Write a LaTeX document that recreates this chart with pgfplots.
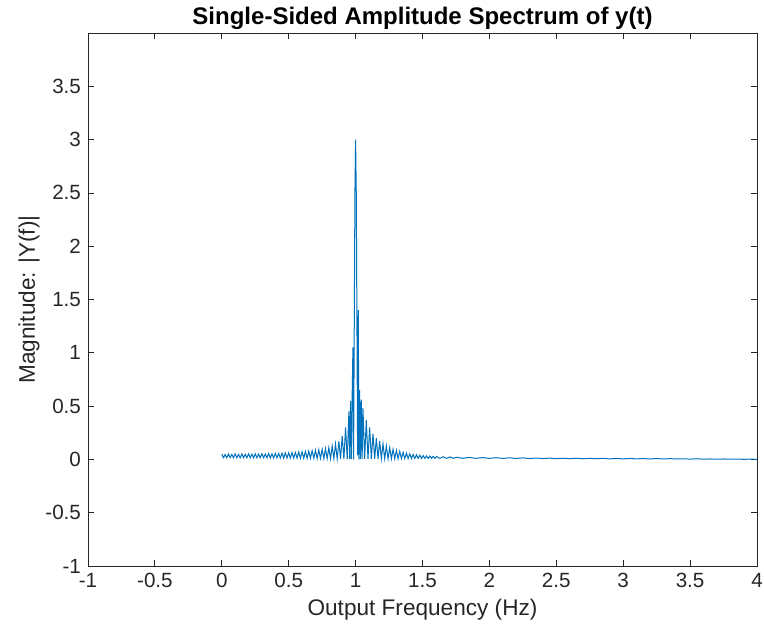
\documentclass[border=0pt]{standalone}
\usepackage{pgfplots}
\pgfplotsset{compat=1.18}
\usepackage{fontspec}
\setmainfont{Liberation Sans}
\usetikzlibrary{calc}
\definecolor{mblue}{rgb}{0,0.447,0.741}
\definecolor{axgray}{rgb}{0.15,0.15,0.15}
\begin{document}
\begin{tikzpicture}
\begin{axis}[
  name=ax,
  scale only axis,
  width=334.5pt, height=266.5pt,
  xmin=-1, xmax=4, ymin=-1, ymax=4,
  xtick={-1,-0.5,0,0.5,1,1.5,2,2.5,3,3.5,4},
  ytick={-1,-0.5,0,0.5,1,1.5,2,2.5,3,3.5},
  tick align=inside,
  major tick length=3pt,
  axis line style={axgray, line width=0.4pt},
  tick style={axgray, line width=0.4pt},
  /pgf/number format/assume math mode=true,
  xticklabel style={font=\fontsize{10.3}{12}\selectfont, text=axgray},
  yticklabel style={font=\fontsize{10.3}{12}\selectfont, text=axgray},
  title={\textbf{Single-Sided Amplitude Spectrum of y(t)}},
  title style={font=\fontsize{12}{14}\selectfont, yshift=-8pt},
  xlabel={Output Frequency (Hz)},
  ylabel={Magnitude: |Y(f)|},
  label style={font=\fontsize{11.3}{13}\selectfont, text=axgray},
  xlabel style={yshift=1pt},
  ylabel style={yshift=-4pt},
  clip=true,
]
\addplot[mblue, line width=0.5pt] coordinates {
(0.0000,0.050)(0.0125,0.016)(0.0250,0.046)(0.0375,0.015)(0.0500,0.051)(0.0625,0.016)
(0.0750,0.047)(0.0875,0.015)(0.1000,0.052)(0.1125,0.016)(0.1250,0.047)(0.1375,0.015)
(0.1500,0.052)(0.1625,0.016)(0.1750,0.048)(0.1875,0.015)(0.2000,0.052)(0.2125,0.016)
(0.2250,0.049)(0.2375,0.015)(0.2500,0.053)(0.2625,0.015)(0.2750,0.050)(0.2875,0.015)
(0.3000,0.054)(0.3125,0.015)(0.3250,0.051)(0.3375,0.014)(0.3500,0.055)(0.3625,0.014)
(0.3750,0.053)(0.3875,0.014)(0.4000,0.056)(0.4125,0.014)(0.4250,0.056)(0.4375,0.013)
(0.4500,0.059)(0.4625,0.013)(0.4750,0.060)(0.4875,0.013)(0.5000,0.062)(0.5125,0.012)
(0.5250,0.064)(0.5375,0.012)(0.5500,0.066)(0.5625,0.012)(0.5750,0.069)(0.5875,0.011)
(0.6000,0.072)(0.6125,0.011)(0.6250,0.075)(0.6375,0.010)(0.6500,0.078)(0.6625,0.010)
(0.6750,0.081)(0.6875,0.010)(0.7000,0.085)(0.7125,0.009)(0.7250,0.090)(0.7375,0.009)
(0.7500,0.095)(0.7625,0.008)(0.7750,0.102)(0.7875,0.008)(0.8000,0.110)(0.8125,0.007)
(0.8250,0.125)(0.8375,0.007)(0.8500,0.145)(0.8625,0.006)(0.8750,0.170)(0.8875,0.005)
(0.9000,0.220)(0.9125,0.004)(0.9250,0.300)(0.9375,0.003)(0.9500,0.450)(0.9563,0.003)
(0.9625,0.550)(0.9688,0.002)(0.9750,0.650)(0.9800,1.050)(0.9850,0.000)(0.9950,2.500)
(1.0000,3.000)(1.0050,2.500)(1.0150,0.040)(1.0200,1.400)(1.0250,0.000)(1.0300,0.650)
(1.0363,0.002)(1.0425,0.560)(1.0488,0.003)(1.0550,0.480)(1.0675,0.003)(1.0800,0.370)
(1.0925,0.004)(1.1050,0.300)(1.1175,0.004)(1.1300,0.240)(1.1425,0.005)(1.1550,0.200)
(1.1675,0.005)(1.1800,0.170)(1.1925,0.006)(1.2050,0.145)(1.2175,0.006)(1.2300,0.125)
(1.2425,0.006)(1.2550,0.110)(1.2675,0.007)(1.2800,0.095)(1.2925,0.007)(1.3050,0.085)
(1.3175,0.007)(1.3300,0.075)(1.3425,0.008)(1.3550,0.066)(1.3675,0.008)(1.3800,0.058)
(1.3925,0.008)(1.4050,0.052)(1.4175,0.008)(1.4300,0.047)(1.4425,0.009)(1.4550,0.043)
(1.4675,0.009)(1.4800,0.039)(1.4925,0.009)(1.5050,0.036)(1.5175,0.009)(1.5300,0.033)
(1.5425,0.009)(1.5550,0.031)(1.5675,0.009)(1.5800,0.029)(1.5925,0.010)(1.6050,0.027)
(1.6300,0.010)(1.6550,0.025)(1.6800,0.010)(1.7050,0.023)(1.7300,0.010)(1.7550,0.021)
(1.8000,0.010)(1.8500,0.019)(1.9000,0.010)(1.9500,0.017)(2.0000,0.010)(2.0500,0.016)
(2.1000,0.009)(2.1500,0.015)(2.2000,0.009)(2.2500,0.014)(2.3000,0.008)(2.3500,0.013)
(2.4000,0.008)(2.4500,0.012)(2.5000,0.007)(2.5500,0.011)(2.6000,0.007)(2.6500,0.011)
(2.7000,0.006)(2.7500,0.010)(2.8000,0.006)(2.8500,0.010)(2.9000,0.005)(2.9500,0.009)
(3.0000,0.005)(3.0500,0.009)(3.1000,0.005)(3.1500,0.008)(3.2000,0.004)(3.2500,0.008)
(3.3000,0.004)(3.3500,0.007)(3.4000,0.004)(3.4500,0.006)(3.5000,0.003)(3.5500,0.005)
(3.6000,0.003)(3.6500,0.004)(3.7000,0.002)(3.7500,0.004)(3.8000,0.002)(3.8500,0.003)
(3.9000,0.001)(3.9500,0.002)(4.0000,0.001)
};
\end{axis}
\pgfresetboundingbox
\path ($(ax.south west)+(-44pt,-35pt)$) rectangle ($(ax.north east)+(3.5pt,16.5pt)$);
\end{tikzpicture}
\end{document}
